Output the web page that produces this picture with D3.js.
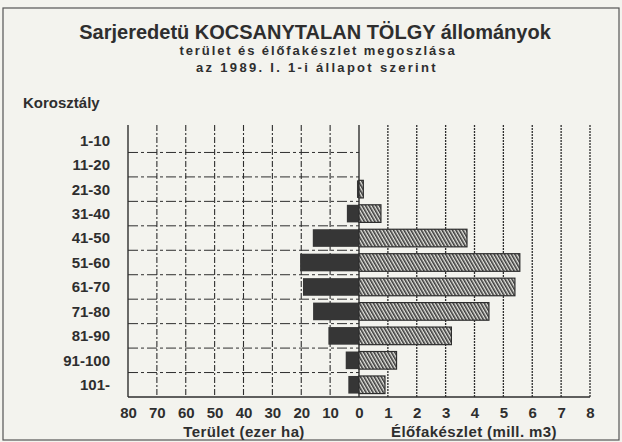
<!DOCTYPE html>
<html>
<head>
<meta charset="utf-8">
<script src="https://cdn.jsdelivr.net/npm/d3@7"></script>
<style>
  body { margin: 0; background: #f3f3ee; }
  svg { display: block; }
  text { font-family: "Liberation Sans", Arial, sans-serif; font-weight: bold; fill: #2e2e2e; }
</style>
</head>
<body>
<svg width="622" height="442"></svg>
<script>
// age classes (top to bottom)
const classes = ["1-10", "11-20", "21-30", "31-40", "41-50", "51-60", "61-70", "71-80", "81-90", "91-100", "101-"];
// area, thousand ha
const area = [0, 0, 0.7, 4.2, 16, 20.4, 19.4, 15.9, 10.6, 4.6, 3.7];
// growing stock, million m3
const stock = [0, 0, 0.15, 0.76, 3.74, 5.57, 5.4, 4.5, 3.2, 1.3, 0.9];
const areaTicks = [80, 70, 60, 50, 40, 30, 20, 10, 0];
const stockTicks = [1, 2, 3, 4, 5, 6, 7, 8];

const ink = "#2e2e2e";
const svg = d3.select("svg");

const xL = d3.scaleLinear().domain([80, 0]).range([128, 359]);
const xR = d3.scaleLinear().domain([0, 8]).range([359, 590]);
const y = d3.scaleBand().domain(classes).range([128, 397]).paddingInner(0.28).paddingOuter(0.14);
const yTop = 125, yBot = 397;

// hatch pattern
const pat = svg.append("defs").append("pattern")
    .attr("id", "hatch")
    .attr("patternUnits", "userSpaceOnUse")
    .attr("width", 3).attr("height", 3)
    .attr("patternTransform", "rotate(-30)");
pat.append("rect").attr("width", 3).attr("height", 3).attr("fill", "#e6e6e0");
pat.append("line").attr("x1", 0.8).attr("y1", 0).attr("x2", 0.8).attr("y2", 3)
    .attr("stroke", "#3a3a3a").attr("stroke-width", 1.6);

// outer frame
svg.append("rect").attr("x", 3).attr("y", 8).attr("width", 616).attr("height", 432)
    .attr("fill", "none").attr("stroke", "#555").attr("stroke-width", 1.2);

// titles
svg.append("text").attr("x", 315).attr("y", 39).attr("text-anchor", "middle")
    .style("font-size", "20px").text("Sarjeredetü KOCSANYTALAN TÖLGY állományok");
svg.append("text").attr("x", 318).attr("y", 55).attr("text-anchor", "middle")
    .style("font-size", "13px").style("letter-spacing", "1.9px").text("terület és élőfakészlet megoszlása");
svg.append("text").attr("x", 317).attr("y", 72).attr("text-anchor", "middle")
    .style("font-size", "13px").style("letter-spacing", "2.3px").text("az 1989. I. 1-i állapot szerint");
svg.append("text").attr("x", 23).attr("y", 108)
    .style("font-size", "15px").text("Korosztály");

// grid
const grid = svg.append("g");
grid.selectAll(".vl").data(areaTicks.slice(1, -1)).join("line")
    .attr("x1", d => xL(d)).attr("x2", d => xL(d))
    .attr("y1", yTop).attr("y2", yBot)
    .attr("stroke", ink).attr("stroke-width", 1.1).attr("stroke-dasharray", "6,2,2,2");
grid.selectAll(".vr").data(stockTicks).join("line")
    .attr("x1", d => xR(d)).attr("x2", d => xR(d))
    .attr("y1", yTop).attr("y2", yBot)
    .attr("stroke", ink).attr("stroke-width", 1.3).attr("stroke-dasharray", "2,1");
const step = y.step();
grid.selectAll(".hl").data(classes.slice(0, -1)).join("line")
    .attr("x1", xL(80)).attr("x2", xL(0))
    .attr("y1", d => y(d) + y.bandwidth() + (step - y.bandwidth()) / 2)
    .attr("y2", d => y(d) + y.bandwidth() + (step - y.bandwidth()) / 2)
    .attr("stroke", ink).attr("stroke-width", 1).attr("stroke-dasharray", "10,3,3,3");

// axis lines
svg.append("line").attr("x1", xL(80)).attr("x2", xL(80)).attr("y1", yTop).attr("y2", yBot)
    .attr("stroke", ink).attr("stroke-width", 1.4);
svg.append("line").attr("x1", xL(0)).attr("x2", xL(0)).attr("y1", yTop).attr("y2", yBot)
    .attr("stroke", ink).attr("stroke-width", 1.4);
svg.append("line").attr("x1", xL(80)).attr("x2", xR(8)).attr("y1", yBot).attr("y2", yBot)
    .attr("stroke", ink).attr("stroke-width", 1.4);

// bars
const rows = classes.map((c, i) => ({ c, a: area[i], s: stock[i] }));
svg.append("g").selectAll("rect").data(rows.filter(d => d.a > 0)).join("rect")
    .attr("x", d => xL(d.a)).attr("width", d => xL(0) - xL(d.a))
    .attr("y", d => y(d.c)).attr("height", y.bandwidth())
    .attr("fill", "#363636");
svg.append("g").selectAll("rect").data(rows.filter(d => d.s > 0)).join("rect")
    .attr("x", xR(0)).attr("width", d => xR(d.s) - xR(0))
    .attr("y", d => y(d.c)).attr("height", y.bandwidth())
    .attr("fill", "url(#hatch)").attr("stroke", ink).attr("stroke-width", 1.2);

// row labels
svg.append("g").selectAll("text").data(classes).join("text")
    .attr("x", 110).attr("y", d => y(d) + y.bandwidth() / 2).attr("dy", "0.36em")
    .attr("text-anchor", "end").style("font-size", "15px").text(d => d);

// x axes
const axL = svg.append("g").attr("transform", `translate(0,${yBot + 10})`)
    .call(d3.axisBottom(xL).tickValues(areaTicks).tickSize(0).tickPadding(0));
const axR = svg.append("g").attr("transform", `translate(0,${yBot + 10})`)
    .call(d3.axisBottom(xR).tickValues(stockTicks).tickSize(0).tickPadding(0));
[axL, axR].forEach(ax => {
    ax.select(".domain").remove();
    ax.selectAll("text").style("font-size", "15px").style("font-family", "Liberation Sans, Arial, sans-serif")
        .attr("fill", ink);
});

svg.append("text").attr("x", 244).attr("y", 437).attr("text-anchor", "middle")
    .style("font-size", "15px").style("letter-spacing", "0.4px").text("Terület (ezer ha)");
svg.append("text").attr("x", 474).attr("y", 437).attr("text-anchor", "middle")
    .style("font-size", "15px").style("letter-spacing", "0.4px").text("Élőfakészlet (mill. m3)");
</script>
</body>
</html>
